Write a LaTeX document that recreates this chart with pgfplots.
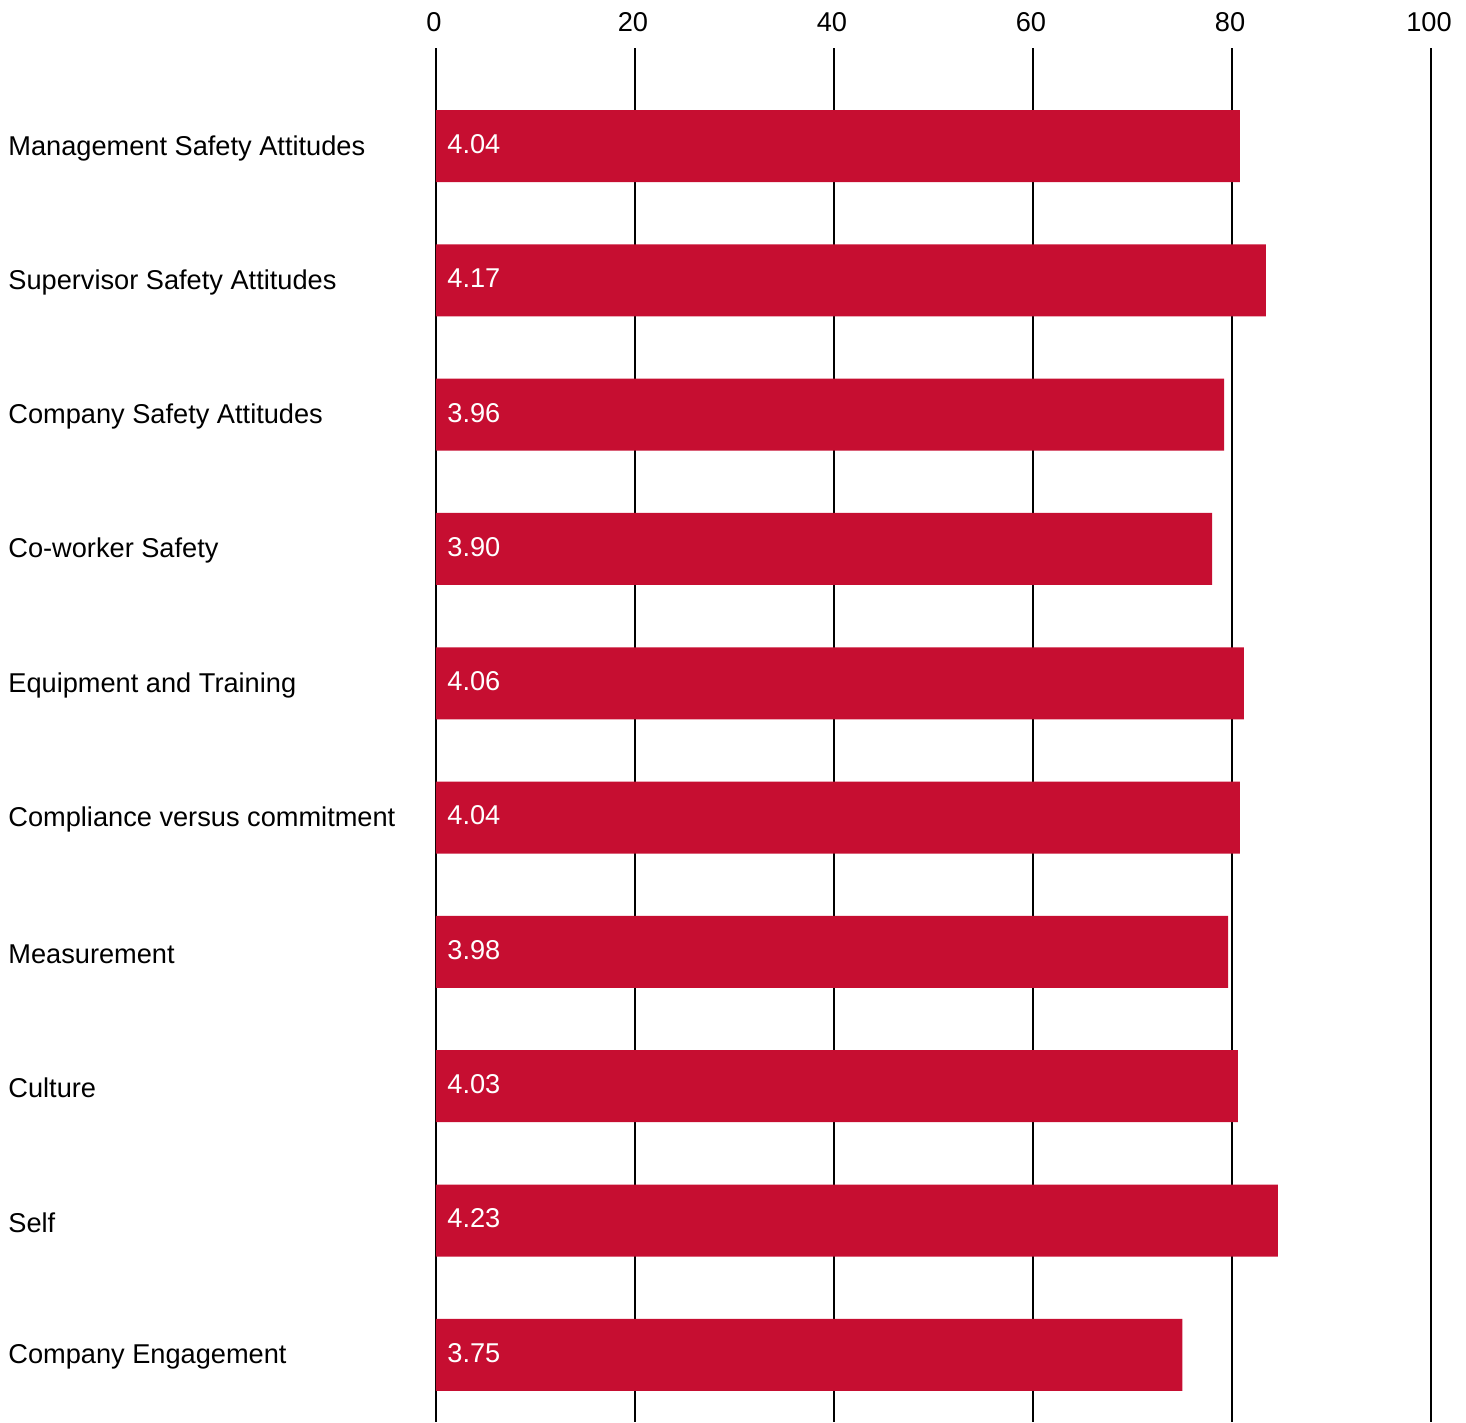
\documentclass[border=0pt]{standalone}
\usepackage{pgfplots}
\usepackage{pgfplotstable}
\pgfplotsset{compat=1.18}
\usepackage{fontspec}
\setmainfont{Liberation Sans}
\definecolor{barred}{HTML}{C60E31}

\pgfplotstableread{
idx v
9 4.04
8 4.17
7 3.96
6 3.90
5 4.06
4 4.04
3 3.98
2 4.03
1 4.23
0 3.75
}\scores

\begin{document}
\begin{tikzpicture}
\begin{axis}[
    scale only axis,
    width=497.5pt,
    height=687pt,
    xmin=0, xmax=100,
    ymin=-0.5, ymax=9.73,
    xtick={0,20,40,60,80,100},
    xticklabel pos=upper,
    xmajorgrids,
    grid style={black, line width=1pt},
    major tick length=0pt,
    axis line style={draw=none},
    ytick={0,...,9},
    yticklabels={Company Engagement, Self, Culture, Measurement,
        Compliance versus commitment, Equipment and Training,
        Co-worker Safety, Company Safety Attitudes,
        Supervisor Safety Attitudes, Management Safety Attitudes},
    /pgf/number format/assume math mode=true,
    tick label style={font=\fontsize{13.6}{16}\selectfont},
    yticklabel style={anchor=west, inner xsep=0pt, xshift=-214pt, yshift=-1pt},
    xticklabel style={yshift=4.5pt, xshift=-1pt},
    clip=false,
]
\addplot[xbar, bar width=36pt, fill=barred, draw=none]
    table[x expr=\thisrow{v}*20, y=idx] {\scores};
\addplot[draw=none, mark=none, nodes near coords, point meta=explicit symbolic,
    every node near coord/.style={anchor=west, inner xsep=0pt, xshift=5.5pt, yshift=1pt,
        text=white, font=\fontsize{13.6}{16}\selectfont}]
    table[x expr=0, y=idx, meta=v] {\scores};
\end{axis}
\path ([xshift=-218pt]current axis.south west) rectangle ([xshift=17.5pt, yshift=24pt]current axis.north east);
\end{tikzpicture}
\end{document}
